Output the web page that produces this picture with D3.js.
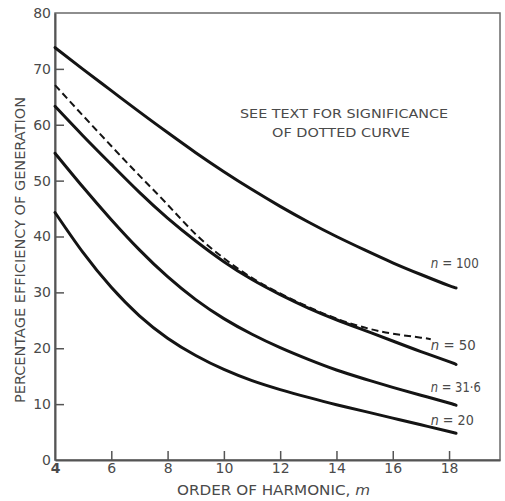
<!DOCTYPE html>
<html>
<head>
<meta charset="utf-8">
<script src="https://cdn.jsdelivr.net/npm/d3@7"></script>
<style>
  body { margin: 0; background: #fff; }
  svg { display: block; }
  .axis-text { font-family: "DejaVu Sans", sans-serif; fill: #4a4a4a; }
</style>
</head>
<body>
<div id="chart"></div>
<script>
'use strict';

// order of harmonic, m
var harmonic = [4, 5, 6, 7, 8, 9, 10, 11, 12, 13, 14, 15, 16, 17, 18, 18.25];
// percentage efficiency for each n
var effN100 = [73.8, 69.9, 66.1, 62.3, 58.6, 55.0, 51.6, 48.4, 45.4, 42.6, 40.0, 37.6, 35.3, 33.2, 31.2, 30.8];
var effN50 = [63.3, 58.0, 52.9, 47.9, 43.3, 39.2, 35.5, 32.3, 29.6, 27.2, 25.1, 23.2, 21.3, 19.4, 17.6, 17.1];
var effN316 = [54.9, 48.8, 43.0, 37.6, 32.8, 28.7, 25.3, 22.5, 20.1, 18.0, 16.1, 14.5, 13.0, 11.6, 10.2, 9.8];
var effN20 = [44.3, 37.1, 30.9, 25.8, 21.8, 18.7, 16.2, 14.2, 12.6, 11.2, 9.9, 8.7, 7.5, 6.3, 5.1, 4.8];
var seriesNames = ['100', '50', '31\u00b76', '20'];
// label anchor (m, efficiency) for each n
var labelM = [17.35, 17.35, 17.35, 17.35];
var labelEff = [34.3, 19.6, 12.1, 6.2];

// dotted curve
var harmonicDotted = [4, 5, 6, 7, 8, 9, 10, 11, 12, 13, 14, 15, 16, 17, 17.35];
var effDotted = [67.1, 61.6, 56.2, 50.9, 45.7, 40.4, 36.1, 32.6, 29.8, 27.4, 25.3, 23.7, 22.6, 21.9, 21.6];

var xTicks = [4, 6, 8, 10, 12, 14, 16, 18];
var yTicks = [0, 10, 20, 30, 40, 50, 60, 70, 80];

var width = 505,
    height = 501,
    margin = { top: 13, right: 5, bottom: 41, left: 55 },
    labelWidth = [48, 45, 50, 43];

var x = d3.scaleLinear().domain([4, 19.81]).range([margin.left, width - margin.right]),
    y = d3.scaleLinear().domain([0, 80]).range([height - margin.bottom, margin.top]);

var svg = d3.select('#chart').append('svg').attr('width', width).attr('height', height);

// frame
svg.append('rect')
  .attr('x', x(4)).attr('y', y(80))
  .attr('width', x.range()[1] - x(4)).attr('height', y(0) - y(80))
  .attr('fill', 'none').attr('stroke', '#6a6a6a').attr('stroke-width', 1.5);

// x axis: ticks inside, pointing up
var xAxis = svg.append('g').attr('transform', 'translate(0,' + y(0) + ')')
  .call(d3.axisBottom(x).tickValues(xTicks).tickSizeInner(-9).tickSizeOuter(0).tickPadding(3));
xAxis.select('.domain').attr('stroke', '#555').attr('stroke-width', 2);
xAxis.selectAll('.tick line').attr('stroke', '#555').attr('stroke-width', 1.5)
  .attr('display', function (d) { return d === 4 ? 'none' : null; });
xAxis.selectAll('.tick text').attr('class', 'axis-text').attr('font-size', 14)
  .attr('font-weight', function (d) { return d === 4 ? 'bold' : 'normal'; })
  .attr('fill', function (d) { return d === 4 ? '#222' : '#4a4a4a'; });

// y axis: ticks inside, pointing right
var yAxis = svg.append('g').attr('transform', 'translate(' + x(4) + ',0)')
  .call(d3.axisLeft(y).tickValues(yTicks).tickSizeInner(-9).tickSizeOuter(0).tickPadding(4));
yAxis.select('.domain').attr('stroke', '#555').attr('stroke-width', 2);
yAxis.selectAll('.tick line').attr('stroke', '#555').attr('stroke-width', 1.5)
  .attr('display', function (d) { return d === 0 || d === 80 ? 'none' : null; });
yAxis.selectAll('.tick text').attr('class', 'axis-text').attr('font-size', 14);

var line = d3.line()
  .x(function (d) { return x(d[0]); })
  .y(function (d) { return y(d[1]); })
  .curve(d3.curveNatural);

[effN100, effN50, effN316, effN20].forEach(function (values) {
  svg.append('path')
    .datum(harmonic.map(function (m, i) { return [m, values[i]]; }))
    .attr('d', line)
    .attr('fill', 'none')
    .attr('stroke', '#141414')
    .attr('stroke-width', 3)
    .attr('stroke-linecap', 'round');
});

svg.append('path')
  .datum(harmonicDotted.map(function (m, i) { return [m, effDotted[i]]; }))
  .attr('d', line)
  .attr('fill', 'none')
  .attr('stroke', '#141414')
  .attr('stroke-width', 2)
  .attr('stroke-dasharray', '7,4');

// curve labels
seriesNames.forEach(function (name, i) {
  var t = svg.append('text')
    .attr('class', 'axis-text')
    .attr('x', x(labelM[i]))
    .attr('y', y(labelEff[i]))
    .attr('font-size', 14)
    .attr('textLength', labelWidth[i]).attr('lengthAdjust', 'spacingAndGlyphs');
  t.append('tspan').attr('font-style', 'italic').text('n');
  t.append('tspan').text(' = ' + name);
});

// note
svg.append('text').attr('class', 'axis-text')
  .attr('x', 344).attr('y', 118).attr('font-size', 13)
  .attr('text-anchor', 'middle')
  .attr('textLength', 208).attr('lengthAdjust', 'spacingAndGlyphs')
  .text('SEE TEXT FOR SIGNIFICANCE');
svg.append('text').attr('class', 'axis-text')
  .attr('x', 341).attr('y', 137).attr('font-size', 13)
  .attr('text-anchor', 'middle')
  .attr('textLength', 138).attr('lengthAdjust', 'spacingAndGlyphs')
  .text('OF DOTTED CURVE');

// axis titles
var xTitle = svg.append('text').attr('class', 'axis-text')
  .attr('x', 177).attr('y', 495).attr('font-size', 14)
  .attr('textLength', 193).attr('lengthAdjust', 'spacingAndGlyphs');
xTitle.append('tspan').text('ORDER OF HARMONIC, ');
xTitle.append('tspan').attr('font-style', 'italic').text('m');

svg.append('text').attr('class', 'axis-text')
  .attr('transform', 'translate(25,250) rotate(-90)')
  .attr('text-anchor', 'middle').attr('font-size', 14)
  .attr('textLength', 306).attr('lengthAdjust', 'spacingAndGlyphs')
  .text('PERCENTAGE EFFICIENCY OF GENERATION');
</script>
</body>
</html>
